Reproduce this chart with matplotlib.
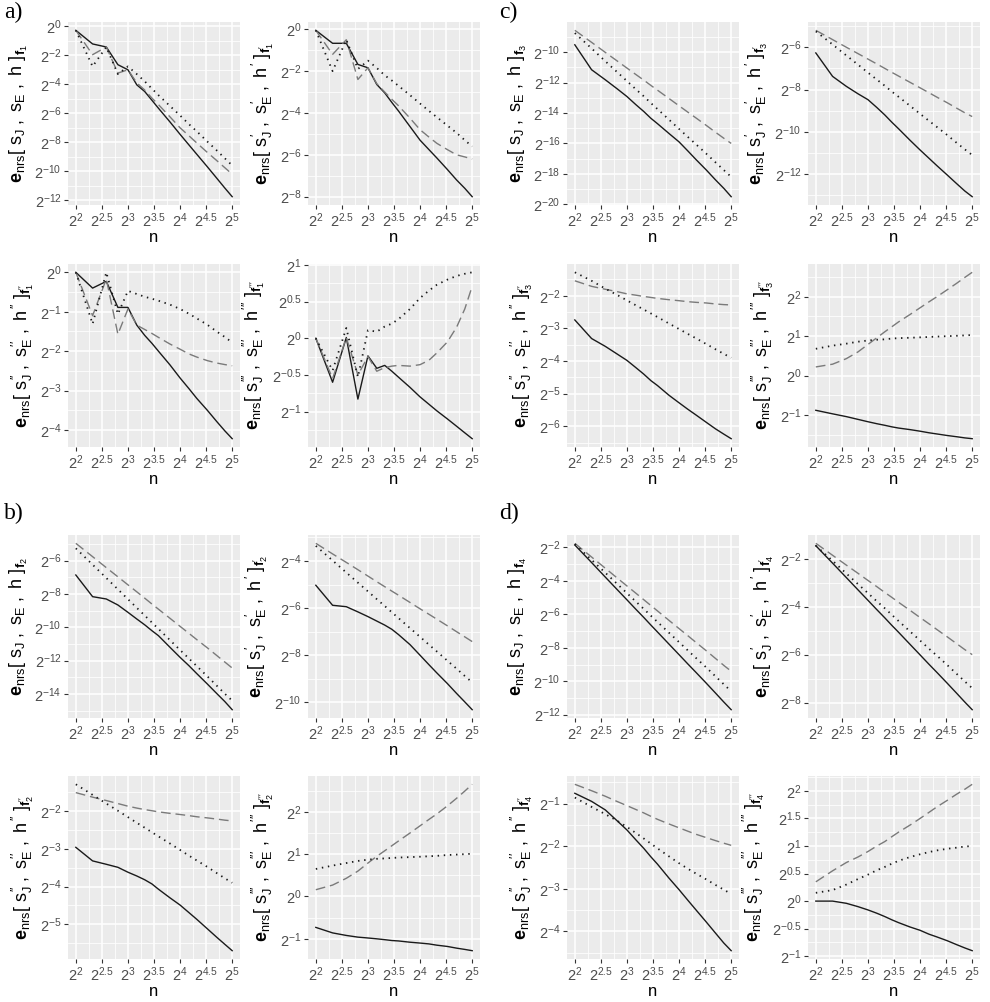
import numpy as np
import matplotlib
matplotlib.use('Agg')
import matplotlib.pyplot as plt
from matplotlib.ticker import FixedLocator, FuncFormatter, NullFormatter

plt.rcParams['font.family'] = ['Liberation Sans', 'DejaVu Sans']
plt.rcParams['mathtext.fontset'] = 'custom'
plt.rcParams['mathtext.rm'] = 'Liberation Sans'
plt.rcParams['mathtext.it'] = 'Liberation Sans'
plt.rcParams['mathtext.bf'] = 'Liberation Sans:bold'
plt.rcParams['mathtext.sf'] = 'Liberation Sans'

# grid sizes n; errors are stored as log2 exponents
n = [4, 5, 6, 7, 8, 9, 10, 11, 12, 14, 16, 18, 20, 23, 26, 29, 32]

# a) f1
f1_sJ = [-0.28, -1.22, -1.43, -2.65, -3.0, -4.04, -4.5, -5.1, -5.65, -6.6, -7.45, -8.18, -8.83, -9.69, -10.46, -11.15, -11.75]
f1_sE = [-0.28, -1.96, -1.43, -3.23, -3.0, -3.9, -4.4, -4.95, -5.4, -6.25, -7.0, -7.55, -8.05, -8.7, -9.25, -9.75, -10.2]
f1_h = [-0.28, -2.77, -1.43, -3.3, -2.77, -3.3, -3.8, -4.3, -4.75, -5.5, -6.15, -6.75, -7.25, -7.95, -8.55, -9.1, -9.6]
f1d_sJ = [-0.05, -0.67, -0.67, -1.68, -1.84, -2.64, -3.04, -3.5, -3.9, -4.65, -5.3, -5.75, -6.15, -6.7, -7.2, -7.6, -8.0]
f1d_sE = [-0.05, -1.2, -0.5, -2.4, -1.84, -2.6, -3.0, -3.35, -3.65, -4.25, -4.8, -5.15, -5.45, -5.75, -6.0, -6.1, -6.2]
f1d_h = [-0.05, -2.0, -0.5, -1.9, -1.5, -1.85, -2.2, -2.45, -2.7, -3.15, -3.55, -3.9, -4.2, -4.6, -4.95, -5.3, -5.6]
f1dd_sJ = [0.0, -0.4, -0.23, -0.89, -0.89, -1.34, -1.6, -1.8, -2.0, -2.35, -2.68, -2.95, -3.2, -3.5, -3.78, -4.02, -4.22]
f1dd_sE = [0.0, -1.1, -0.17, -1.57, -0.93, -1.34, -1.45, -1.55, -1.65, -1.82, -1.95, -2.07, -2.15, -2.24, -2.3, -2.34, -2.37]
f1dd_h = [0.0, -1.31, 0.0, -1.06, -0.47, -0.55, -0.62, -0.67, -0.72, -0.82, -0.93, -1.05, -1.17, -1.33, -1.5, -1.64, -1.78]
f1ddd_sJ = [0.0, -0.6, 0.01, -0.83, -0.24, -0.41, -0.37, -0.45, -0.53, -0.67, -0.8, -0.9, -0.99, -1.1, -1.2, -1.29, -1.37]
f1ddd_sE = [0.0, -0.55, 0.01, -0.5, -0.25, -0.45, -0.4, -0.38, -0.37, -0.38, -0.36, -0.3, -0.2, -0.05, 0.15, 0.4, 0.71]
f1ddd_h = [0.0, -0.44, 0.14, -0.53, 0.11, 0.09, 0.16, 0.2, 0.26, 0.4, 0.55, 0.65, 0.73, 0.8, 0.85, 0.88, 0.9]

# b) f2
f2_sJ = [-6.86, -8.16, -8.3, -8.66, -9.1, -9.5, -9.85, -10.2, -10.5, -11.2, -11.8, -12.3, -12.78, -13.4, -13.96, -14.45, -14.94]
f2_sE = [-4.96, -5.76, -6.42, -6.97, -7.45, -7.87, -8.25, -8.6, -8.91, -9.46, -9.94, -10.36, -10.74, -11.23, -11.68, -12.08, -12.44]
f2_h = [-5.26, -6.24, -7.04, -7.72, -8.31, -8.83, -9.29, -9.71, -10.09, -10.77, -11.36, -11.87, -12.33, -12.94, -13.49, -13.98, -14.4]
f2d_sJ = [-5.03, -5.88, -5.94, -6.16, -6.36, -6.55, -6.72, -6.9, -7.12, -7.55, -8.0, -8.4, -8.75, -9.2, -9.62, -9.98, -10.31]
f2d_sE = [-3.25, -3.7, -4.06, -4.37, -4.64, -4.88, -5.09, -5.28, -5.45, -5.76, -6.03, -6.26, -6.47, -6.75, -7.0, -7.22, -7.42]
f2d_h = [-3.36, -3.98, -4.49, -4.92, -5.29, -5.62, -5.91, -6.18, -6.42, -6.85, -7.22, -7.55, -7.84, -8.23, -8.57, -8.88, -9.15]
f2dd_sJ = [-2.96, -3.32, -3.41, -3.49, -3.62, -3.72, -3.82, -3.93, -4.07, -4.3, -4.49, -4.69, -4.87, -5.12, -5.34, -5.53, -5.7]
f2dd_sE = [-1.51, -1.63, -1.72, -1.8, -1.87, -1.92, -1.96, -1.99, -2.02, -2.06, -2.09, -2.12, -2.15, -2.18, -2.21, -2.24, -2.26]
f2dd_h = [-1.29, -1.57, -1.8, -1.99, -2.16, -2.31, -2.44, -2.56, -2.67, -2.86, -3.03, -3.18, -3.31, -3.48, -3.64, -3.78, -3.9]
f2ddd_sJ = [-0.73, -0.86, -0.92, -0.96, -0.98, -1.0, -1.02, -1.04, -1.05, -1.08, -1.1, -1.12, -1.15, -1.18, -1.22, -1.25, -1.28]
f2ddd_sE = [0.16, 0.27, 0.43, 0.6, 0.79, 0.95, 1.08, 1.2, 1.31, 1.5, 1.67, 1.82, 1.95, 2.14, 2.32, 2.49, 2.65]
f2ddd_h = [0.65, 0.73, 0.79, 0.84, 0.87, 0.89, 0.9, 0.91, 0.92, 0.93, 0.94, 0.95, 0.96, 0.98, 0.99, 1.0, 1.01]

# c) f3
f3_sJ = [-9.52, -11.16, -11.82, -12.4, -12.92, -13.45, -13.9, -14.35, -14.7, -15.35, -15.9, -16.5, -17.05, -17.75, -18.4, -18.95, -19.5]
f3_sE = [-8.57, -9.36, -10.02, -10.57, -11.05, -11.47, -11.84, -12.19, -12.5, -13.05, -13.53, -13.95, -14.32, -14.82, -15.27, -15.66, -16.0]
f3_h = [-8.75, -9.76, -10.6, -11.3, -11.9, -12.44, -12.9, -13.35, -13.74, -14.44, -15.05, -15.58, -16.05, -16.68, -17.25, -17.75, -18.2]
f3d_sJ = [-6.27, -7.38, -7.85, -8.2, -8.48, -8.85, -9.2, -9.55, -9.85, -10.4, -10.86, -11.25, -11.6, -12.05, -12.45, -12.8, -13.07]
f3d_sE = [-5.2, -5.64, -6.0, -6.3, -6.56, -6.79, -7.0, -7.19, -7.36, -7.66, -7.92, -8.15, -8.36, -8.63, -8.88, -9.1, -9.28]
f3d_h = [-5.25, -5.87, -6.39, -6.82, -7.2, -7.53, -7.82, -8.1, -8.34, -8.77, -9.15, -9.48, -9.77, -10.16, -10.52, -10.83, -11.1]
f3dd_sJ = [-2.74, -3.31, -3.55, -3.78, -3.98, -4.2, -4.4, -4.6, -4.75, -5.05, -5.28, -5.48, -5.65, -5.88, -6.08, -6.24, -6.38]
f3dd_sE = [-1.54, -1.71, -1.8, -1.87, -1.94, -1.98, -2.02, -2.05, -2.08, -2.12, -2.15, -2.18, -2.2, -2.22, -2.25, -2.27, -2.28]
f3dd_h = [-1.28, -1.54, -1.78, -1.97, -2.14, -2.29, -2.42, -2.54, -2.65, -2.85, -3.02, -3.17, -3.3, -3.48, -3.64, -3.78, -3.9]
f3ddd_sJ = [-0.88, -0.97, -1.04, -1.11, -1.17, -1.22, -1.26, -1.3, -1.33, -1.37, -1.41, -1.45, -1.48, -1.52, -1.55, -1.58, -1.6]
f3ddd_sE = [0.22, 0.29, 0.43, 0.6, 0.79, 0.96, 1.11, 1.24, 1.36, 1.55, 1.72, 1.87, 2.0, 2.18, 2.34, 2.49, 2.62]
f3ddd_h = [0.68, 0.76, 0.81, 0.86, 0.89, 0.91, 0.92, 0.94, 0.95, 0.96, 0.97, 0.98, 0.99, 1.0, 1.01, 1.02, 1.03]

# d) f4
f4_sJ = [-1.85, -2.9, -3.77, -4.5, -5.13, -5.69, -6.18, -6.64, -7.05, -7.78, -8.41, -8.97, -9.46, -10.12, -10.71, -11.24, -11.7]
f4_sE = [-1.75, -2.57, -3.24, -3.81, -4.3, -4.73, -5.12, -5.47, -5.79, -6.36, -6.85, -7.28, -7.67, -8.18, -8.64, -9.05, -9.4]
f4_h = [-1.8, -2.74, -3.51, -4.16, -4.73, -5.23, -5.67, -6.08, -6.45, -7.1, -7.66, -8.16, -8.6, -9.18, -9.71, -10.18, -10.6]
f4d_sJ = [-1.45, -2.18, -2.78, -3.29, -3.73, -4.12, -4.46, -4.78, -5.06, -5.57, -6.01, -6.4, -6.74, -7.2, -7.61, -7.98, -8.3]
f4d_sE = [-1.35, -1.85, -2.26, -2.6, -2.9, -3.16, -3.4, -3.61, -3.81, -4.15, -4.45, -4.71, -4.95, -5.26, -5.54, -5.79, -6.0]
f4d_h = [-1.45, -2.08, -2.61, -3.05, -3.43, -3.77, -4.06, -4.34, -4.59, -5.03, -5.41, -5.75, -6.04, -6.44, -6.8, -7.12, -7.4]
f4dd_sJ = [-0.76, -0.95, -1.15, -1.4, -1.62, -1.85, -2.05, -2.25, -2.42, -2.75, -3.02, -3.27, -3.49, -3.78, -4.04, -4.27, -4.45]
f4dd_sE = [-0.55, -0.7, -0.83, -0.95, -1.05, -1.14, -1.22, -1.3, -1.37, -1.48, -1.57, -1.65, -1.72, -1.8, -1.87, -1.93, -1.98]
f4dd_h = [-0.86, -1.08, -1.25, -1.4, -1.55, -1.69, -1.82, -1.94, -2.05, -2.24, -2.4, -2.53, -2.64, -2.78, -2.91, -3.02, -3.12]
f4ddd_sJ = [0.0, 0.0, -0.04, -0.1, -0.16, -0.22, -0.28, -0.34, -0.39, -0.47, -0.53, -0.6, -0.65, -0.72, -0.79, -0.85, -0.9]
f4ddd_sE = [0.35, 0.55, 0.7, 0.8, 0.9, 1.0, 1.08, 1.17, 1.25, 1.38, 1.5, 1.61, 1.71, 1.83, 1.94, 2.03, 2.12]
f4ddd_h = [0.15, 0.2, 0.3, 0.4, 0.48, 0.56, 0.62, 0.68, 0.73, 0.8, 0.85, 0.89, 0.92, 0.95, 0.97, 0.99, 1.0]

W, H = 990, 1002
fig = plt.figure(figsize=(W / 100, H / 100), dpi=100)

col_left = [68, 308, 567, 808]
row_top = [22, 264, 535, 776]
pw, ph = 172, 183


def fmt_exp(v, pos):
    e = round(float(np.log2(v)), 2)
    return r'$2^{%g}$' % e


def ylabel_text(k, p):
    pr = r'^{' + r'\prime' * p + '}' if p else ''
    return (r'$\mathbf{e}_{\mathrm{nrs}}[\ s_J%s\ ,\ s_E%s\ ,\ h%s\ ]_{\mathbf{f}_{%d}%s}$'
            % (pr, pr, pr, k, pr))


def panel(col, row, sJ, sE, h, step, k, p):
    ax = fig.add_axes([col_left[col] / W, 1 - (row_top[row] + ph) / H, pw / W, ph / H])
    ax.set_facecolor('#EBEBEB')
    for s in ax.spines.values():
        s.set_visible(False)
    x = np.array(n, dtype=float)
    ax.plot(x, 2.0 ** np.array(sJ), color='#1a1a1a', lw=1.0, ls='-')
    ax.plot(x, 2.0 ** np.array(sE), color='#7a7a7a', lw=1.0, ls=(0, (7, 3.5)))
    ax.plot(x, 2.0 ** np.array(h), color='#1a1a1a', lw=1.3, ls=(0, (0.8, 2.6)))
    ax.set_xscale('log', base=2)
    ax.set_yscale('log', base=2)

    ax.set_xlim(2 ** 1.85, 2 ** 5.15)
    ax.xaxis.set_major_locator(FixedLocator(2.0 ** np.arange(2, 5.01, 0.5)))
    ax.xaxis.set_minor_locator(FixedLocator(2.0 ** np.arange(2.25, 4.8, 0.5)))

    allv = np.concatenate([sJ, sE, h])
    lo, hi = allv.min(), allv.max()
    pad = 0.05 * (hi - lo)
    lo, hi = lo - pad, hi + pad
    ax.set_ylim(2 ** lo, 2 ** hi)
    maj = np.arange(np.ceil(lo / step) * step, hi + 1e-9, step)
    mnr = np.arange(np.ceil((lo - step / 2) / step) * step - step / 2, hi, step)
    mnr = mnr[(mnr > lo) & (mnr < hi)]
    ax.yaxis.set_major_locator(FixedLocator(2.0 ** maj))
    ax.yaxis.set_minor_locator(FixedLocator(2.0 ** mnr))

    for axis in (ax.xaxis, ax.yaxis):
        axis.set_major_formatter(FuncFormatter(fmt_exp))
        axis.set_minor_formatter(NullFormatter())

    ax.grid(which='major', color='white', lw=1.1)
    ax.grid(which='minor', color='white', lw=0.55)
    ax.set_axisbelow(True)
    ax.tick_params(which='major', length=3, width=0.8, color='#333333',
                   labelcolor='#4D4D4D', labelsize=10.5, pad=1.5)
    ax.tick_params(which='minor', length=0)
    ax.set_xlabel('n', fontsize=12, labelpad=0)
    ax.set_ylabel(ylabel_text(k, p), fontsize=13, labelpad=3)
    return ax


groups = [
    (0, 0, 1, [(f1_sJ, f1_sE, f1_h, 2), (f1d_sJ, f1d_sE, f1d_h, 2),
               (f1dd_sJ, f1dd_sE, f1dd_h, 1), (f1ddd_sJ, f1ddd_sE, f1ddd_h, 0.5)]),
    (0, 2, 2, [(f2_sJ, f2_sE, f2_h, 2), (f2d_sJ, f2d_sE, f2d_h, 2),
               (f2dd_sJ, f2dd_sE, f2dd_h, 1), (f2ddd_sJ, f2ddd_sE, f2ddd_h, 1)]),
    (2, 0, 3, [(f3_sJ, f3_sE, f3_h, 2), (f3d_sJ, f3d_sE, f3d_h, 2),
               (f3dd_sJ, f3dd_sE, f3dd_h, 1), (f3ddd_sJ, f3ddd_sE, f3ddd_h, 1)]),
    (2, 2, 4, [(f4_sJ, f4_sE, f4_h, 2), (f4d_sJ, f4d_sE, f4d_h, 2),
               (f4dd_sJ, f4dd_sE, f4dd_h, 1), (f4ddd_sJ, f4ddd_sE, f4ddd_h, 0.5)]),
]

for c0, r0, k, panels in groups:
    for p, (sJ, sE, h, step) in enumerate(panels):
        panel(c0 + p % 2, r0 + p // 2, sJ, sE, h, step, k, p)

for lab, (px, py) in zip(['a)', 'b)', 'c)', 'd)'], [(4, 2), (4, 503), (499, 2), (499, 503)]):
    fig.text(px / W, 1 - py / H, lab, family='Liberation Serif', fontsize=17,
             va='top', ha='left')

fig.savefig('out.png', dpi=100, facecolor='white')
